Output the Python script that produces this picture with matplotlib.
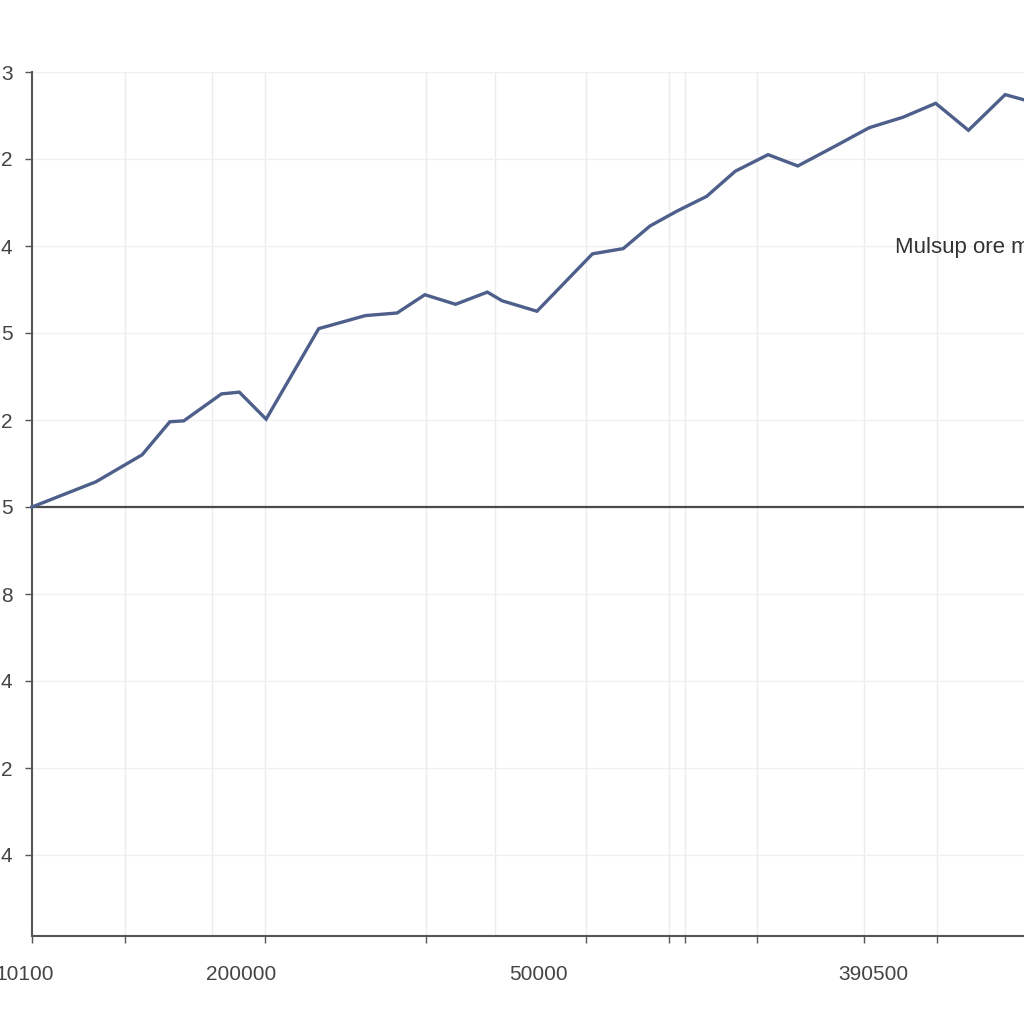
import matplotlib
matplotlib.use("Agg")
import matplotlib.pyplot as plt
import matplotlib.transforms as mtransforms

# ---- data ----
x_vals = [0, 6.45, 11.1, 13.9, 15.3, 19.1, 20.9, 23.6, 28.9, 33.6, 36.8, 39.6,
          42.7, 45.9, 47.4, 50.9, 56.5, 59.6, 62.3, 65.0, 68.0, 70.9, 74.2,
          77.2, 81.0, 84.4, 87.8, 91.1, 94.4, 98.1, 100]
y_vals = [5.0, 5.29, 5.60, 5.98, 5.99, 6.30, 6.32, 6.01, 7.05, 7.20, 7.23, 7.44,
          7.33, 7.47, 7.37, 7.25, 7.91, 7.97, 8.23, 8.40, 8.57, 8.86, 9.05,
          8.92, 9.15, 9.36, 9.48, 9.64, 9.33, 9.74, 9.68]

y_tick_pos = [1, 2, 3, 4, 5, 6, 7, 8, 9, 10]
y_tick_labels = ["4", "2", "4", "8", "5", "2", "5", "4", "2", "3"]

x_label_pos = [-0.7, 21.1, 51.1, 84.8]
x_labels = ["10100", "200000", "50000", "390500"]
x_tick_marks = [0, 9.4, 23.5, 39.7, 55.8, 64.2, 65.8, 73.1, 83.9, 91.2]
x_grid = [9.4, 18.1, 23.5, 39.7, 46.7, 55.8, 64.2, 65.8, 73.1, 83.9, 91.2]

baseline_value = 5
annotation_text = "Mulsup ore m"

plt.rcParams["font.family"] = ["Liberation Sans", "DejaVu Sans"]

fig = plt.figure(figsize=(10.24, 10.24), dpi=100)
ax = fig.add_axes([32/1024, 88/1024, 992/1024, 864/1024])

# grid
for gx in x_grid:
    ax.axvline(gx, color="#ececf0", lw=1.0, zorder=0)
for gy in y_tick_pos:
    ax.axhline(gy, color="#f0f0f3", lw=1.0, zorder=0)

ax.axhline(baseline_value, color="#4a4a4a", lw=1.6, zorder=2)
ax.plot(x_vals, y_vals, color="#4d5f8a", lw=2.4, solid_joinstyle="miter",
        clip_on=False, zorder=3)

ax.set_yticks(y_tick_pos)
ax.set_yticklabels(y_tick_labels, fontsize=15, color="#444444")
ax.tick_params(axis="y", length=5, width=1, color="#555555", pad=9)

ax.set_xticks(x_tick_marks)
ax.set_xticklabels([])
ax.tick_params(axis="x", length=5, width=1, color="#555555")

ax.set_xlim(0, 100)
ax.set_ylim(1 - 81/87, 10)

trans = mtransforms.blended_transform_factory(ax.transData, ax.transAxes)
for xp, lab in zip(x_label_pos, x_labels):
    ax.text(xp, -0.045, lab, transform=trans, fontsize=15, color="#444444",
            ha="center", va="center", clip_on=False)

for s in ["top", "right"]:
    ax.spines[s].set_visible(False)
for s in ["left", "bottom"]:
    ax.spines[s].set_color("#555555")
    ax.spines[s].set_linewidth(1.5)

ax.text(0.870, 0.797, annotation_text, transform=ax.transAxes, fontsize=16,
        color="#333333", ha="left", va="center", clip_on=False)

fig.savefig("out.png", dpi=100, facecolor="white")
